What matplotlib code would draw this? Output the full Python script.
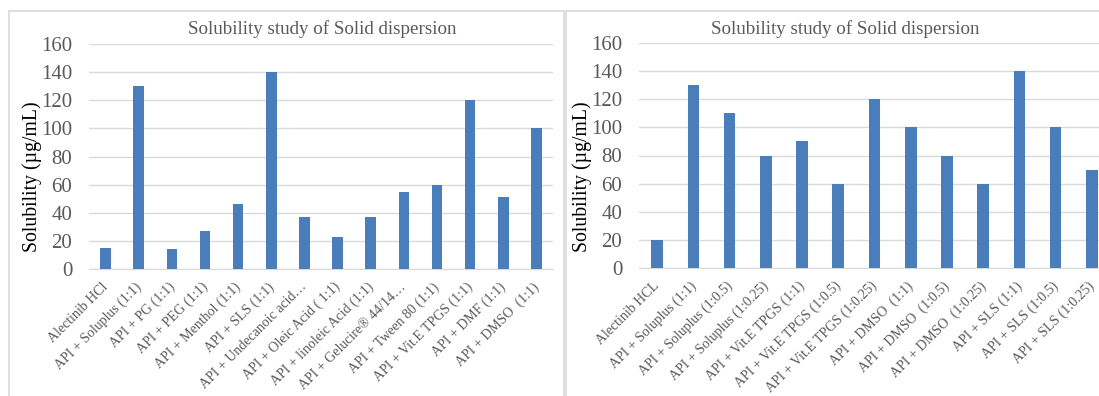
import matplotlib.pyplot as plt
from matplotlib.patches import Rectangle
from matplotlib.transforms import ScaledTranslation
import numpy as np

# data
left_labels = ["Alectinib HCl", "API + Soluplus (1:1)", "API + PG (1:1)", "API + PEG (1:1)",
               "API + Menthol (1:1)", "API + SLS (1:1)", "API + Undecanoic acid…",
               "API + Oleic Acid ( 1:1)", "API + linoleic Acid (1:1)", "API + Gelucire® 44/14…",
               "API + Tween 80 (1:1)", "API + Vit.E TPGS (1:1)", "API + DMF (1:1)",
               "API + DMSO  (1:1)"]
left_values = [15, 130, 14, 27, 46, 140, 37, 23, 37, 55, 60, 120, 51, 100]

right_labels = ["Alectinib HCL", "API + Soluplus (1:1)", "API + Soluplus (1:0.5)",
                "API + Soluplus (1:0.25)", "API + Vit.E TPGS (1:1)", "API + Vit.E TPGS (1:0.5)",
                "API + Vit.E TPGS (1:0.25)", "API + DMSO  (1:1)", "API + DMSO  (1:0.5)",
                "API + DMSO  (1:0.25)", "API + SLS (1:1)", "API + SLS (1:0.5)",
                "API + SLS (1:0.25)"]
right_values = [20, 130, 110, 80, 90, 60, 120, 100, 80, 60, 140, 100, 70]

TITLE = "Solubility study of Solid dispersion"
YLABEL = "Solubility (µg/mL)"

plt.rcParams['font.family'] = ['Liberation Serif', 'DejaVu Serif']
BAR = '#4a7ebb'
TXT = '#595959'
GRID = '#d9d9d9'

W, H = 1099, 396
fig = plt.figure(figsize=(W / 100, H / 100), dpi=100)

# chart frames (Excel chart areas)
fig.patches.append(Rectangle((9 / W, -0.1), 555 / W, 1.1 - 11 / H, transform=fig.transFigure,
                             fill=False, edgecolor=GRID, linewidth=1.2))
fig.patches.append(Rectangle((566 / W, -0.1), 0.6, 1.1 - 11 / H, transform=fig.transFigure,
                             fill=False, edgecolor=GRID, linewidth=1.2))


def draw(rect, labels, values, title_x, ylabel_x):
    ax = fig.add_axes(rect)
    x = np.arange(len(values))
    ax.bar(x, values, width=0.32, color=BAR, zorder=3)
    ax.set_xlim(-0.5, len(values) - 0.5)
    ax.set_ylim(0, 160)
    ax.set_yticks(np.arange(0, 161, 20))
    ax.yaxis.grid(True, color=GRID, linewidth=1)
    ax.set_axisbelow(True)
    for s in ['top', 'right', 'left']:
        ax.spines[s].set_visible(False)
    ax.spines['bottom'].set_color(GRID)
    ax.tick_params(axis='both', length=0, colors=TXT)
    ax.tick_params(axis='y', labelsize=15, pad=12)
    ax.set_xticks(x)
    ax.set_xticklabels(labels, rotation=45, ha='right', rotation_mode='anchor',
                       fontsize=10, color=TXT)
    ax.tick_params(axis='x', pad=8)
    shift = ScaledTranslation(-3 / 72, 0, fig.dpi_scale_trans)
    for lab in ax.get_xticklabels():
        lab.set_transform(lab.get_transform() + shift)
    fig.text(title_x / W, 1 - 29 / H, TITLE, ha='center', va='center', fontsize=13.7, color=TXT)
    fig.text(ylabel_x / W, (H - 177) / H, YLABEL, rotation=90, ha='center', va='center',
             fontsize=14.2, color='black')
    return ax


draw([89 / W, (H - 269) / H, 464 / W, 225 / H], left_labels, left_values, 322, 32)
draw([639 / W, (H - 268) / H, 471 / W, 225 / H], right_labels, right_values, 845, 582)

fig.savefig('out.png', dpi=100)
